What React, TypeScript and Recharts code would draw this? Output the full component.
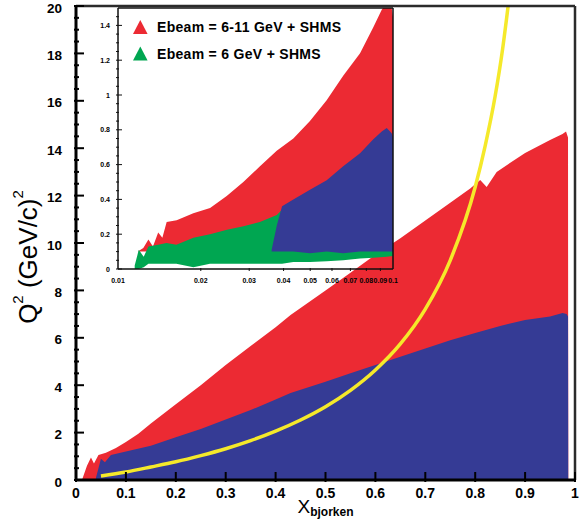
import React from 'react';
import { ComposedChart, Area, Line, XAxis, YAxis, ReferenceLine, Legend } from 'recharts';

const W = 582;
const H = 525;
const FONT = '"Liberation Sans", Arial, Helvetica, sans-serif';
const RED = '#ec2a33';
const BLUE = '#353b95';
const GREEN = '#00a651';
const YELLOW = '#f5e92a';
const FRAME = '#2b2b2b';

// ---------------- main chart data (x_bjorken vs Q^2) ----------------
const mainRedX = [0.012, 0.022, 0.03, 0.036, 0.045, 0.06, 0.08, 0.1, 0.125, 0.15, 0.2, 0.25, 0.3, 0.35, 0.4, 0.43, 0.5, 0.55, 0.6, 0.65, 0.7, 0.75, 0.79, 0.81, 0.823, 0.843, 0.9, 0.95, 0.975, 0.982, 0.986, 0.9865];
const mainRedQ2 = [0, 0.6, 0.95, 0.7, 1.05, 1.15, 1.35, 1.6, 1.95, 2.38, 3.2, 4.0, 4.85, 5.65, 6.45, 6.96, 8.0, 8.75, 9.5, 10.2, 10.95, 11.7, 12.3, 12.66, 12.36, 13.0, 13.8, 14.35, 14.6, 14.7, 14.45, 0];

const mainBlueX = [0.04, 0.05, 0.058, 0.07, 0.1, 0.15, 0.2, 0.25, 0.3, 0.35, 0.4, 0.43, 0.5, 0.55, 0.6, 0.65, 0.7, 0.75, 0.8, 0.85, 0.9, 0.95, 0.975, 0.983, 0.986, 0.9865];
const mainBlueQ2 = [0.1, 0.9, 0.75, 1.05, 1.2, 1.45, 1.8, 2.15, 2.55, 2.95, 3.4, 3.67, 4.15, 4.5, 4.85, 5.2, 5.55, 5.9, 6.2, 6.5, 6.75, 6.9, 7.05, 7.0, 6.9, 0];

const yellowX = [0.05, 0.1, 0.15, 0.2, 0.25, 0.3, 0.35, 0.4, 0.45, 0.5, 0.55, 0.6, 0.65, 0.7, 0.75, 0.8, 0.82, 0.84, 0.855, 0.866];
const yellowQ2 = [0.17, 0.34, 0.55, 0.77, 1.03, 1.32, 1.66, 2.06, 2.53, 3.09, 3.78, 4.64, 5.74, 7.21, 9.27, 12.36, 14.1, 16.2, 18.2, 20.0];

const mainXTicks = [0, 0.1, 0.2, 0.3, 0.4, 0.5, 0.6, 0.7, 0.8, 0.9, 1];
const mainXTickLabels = ['0', '0.1', '0.2', '0.3', '0.4', '0.5', '0.6', '0.7', '0.8', '0.9', '1'];
const mainYMajor = [0, 2, 4, 6, 8, 10, 12, 14, 16, 18, 20];
const mainYMinor = [0.5, 1, 1.5, 2.5, 3, 3.5, 4.5, 5, 5.5, 6.5, 7, 7.5, 8.5, 9, 9.5, 10.5, 11, 11.5, 12.5, 13, 13.5, 14.5, 15, 15.5, 16.5, 17, 17.5, 18.5, 19, 19.5];

// ---------------- inset data (log x from 0.01 to 0.1) ----------------
const insetRedX = [0.0118, 0.01236, 0.0129, 0.0134, 0.014, 0.0145, 0.01503, 0.01634, 0.01879, 0.02162, 0.02485, 0.02856, 0.03283, 0.03777, 0.04341, 0.0499, 0.05738, 0.0659, 0.0759, 0.0848, 0.091, 0.0949, 0.0989, 0.1];
const insetRedLow = [0.1, 0.1, 0.1, 0.1, 0.1, 0.1, 0.1, 0.1, 0.1, 0.1, 0.1, 0.1, 0.1, 0.1, 0.1, 0.1, 0.1, 0.1, 0.1, 0.1, 0.1, 0.1, 0.1, 0.1];
const insetRedHigh = [0.1, 0.12, 0.17, 0.13, 0.21, 0.18, 0.27, 0.28, 0.32, 0.35, 0.42, 0.5, 0.59, 0.68, 0.75, 0.85, 0.97, 1.11, 1.24, 1.39, 1.49, 1.53, 1.5, 1.45];

const insetGreenX = [0.0115, 0.0119, 0.0124, 0.0129, 0.014, 0.015, 0.0163, 0.0188, 0.0216, 0.0249, 0.0286, 0.0328, 0.0378, 0.0395, 0.0434, 0.0499, 0.0574, 0.0659, 0.0759, 0.0848, 0.0949, 0.1];
const insetGreenLow = [0.0, 0.0, 0.01, 0.03, 0.03, 0.03, 0.03, 0.01, 0.03, 0.03, 0.03, 0.03, 0.03, 0.03, 0.04, 0.04, 0.045, 0.05, 0.06, 0.065, 0.07, 0.075];
const insetGreenHigh = [0.02, 0.11, 0.07, 0.13, 0.14, 0.15, 0.14, 0.18, 0.2, 0.225, 0.245, 0.27, 0.31, 0.34, 0.12, 0.12, 0.12, 0.12, 0.12, 0.13, 0.13, 0.13];

const insetBlueX = [0.0362, 0.0378, 0.0395, 0.0434, 0.0499, 0.0574, 0.0659, 0.0759, 0.0848, 0.091, 0.0949, 0.0989, 0.1];
const insetBlueLow = [0.1, 0.1, 0.1, 0.1, 0.09, 0.1, 0.09, 0.1, 0.1, 0.1, 0.1, 0.1, 0.1];
const insetBlueHigh = [0.11, 0.25, 0.36, 0.4, 0.455, 0.51, 0.59, 0.665, 0.745, 0.79, 0.81, 0.78, 0.76];

const insetXTicks = [0.01, 0.02, 0.03, 0.04, 0.05, 0.06, 0.07, 0.08, 0.09, 0.1];
const insetXTickLabels = ['0.01', '0.02', '0.03', '0.04', '0.05', '0.06', '0.07', '0.08', '0.09', '0.1'];
const insetYMajor = [0, 0.2, 0.4, 0.6, 0.8, 1, 1.2, 1.4];
const insetYMajorLabels = ['0', '0.2', '0.4', '0.6', '0.8', '1', '1.2', '1.4'];
const insetYMinor = [0.05, 0.1, 0.15, 0.25, 0.3, 0.35, 0.45, 0.5, 0.55, 0.65, 0.7, 0.75, 0.85, 0.9, 0.95, 1.05, 1.1, 1.15, 1.25, 1.3, 1.35, 1.45];

const legendLabels = ['Ebeam = 6-11 GeV + SHMS', 'Ebeam = 6 GeV + SHMS'];
const legendColors = [RED, GREEN];

// ---------------- helpers ----------------
type Row = { x: number; [k: string]: any };
function mergeByX(series: { key: string; xs: number[]; vals: any[] }[]): Row[] {
  const rows = new Map<number, Row>();
  for (const s of series) {
    s.xs.forEach((x, i) => {
      const r = rows.get(x) ?? { x };
      r[s.key] = s.vals[i];
      rows.set(x, r);
    });
  }
  return Array.from(rows.values()).sort((a, b) => a.x - b.x);
}
const zip2 = (a: number[], b: number[]) => a.map((v, i) => [v, b[i]]);

const mainData = mergeByX([
  { key: 'red', xs: mainRedX, vals: mainRedQ2 },
  { key: 'blue', xs: mainBlueX, vals: mainBlueQ2 },
  { key: 'yellow', xs: yellowX, vals: yellowQ2 },
]);

const insetData = mergeByX([
  { key: 'red', xs: insetRedX, vals: zip2(insetRedLow, insetRedHigh) },
  { key: 'green', xs: insetGreenX, vals: zip2(insetGreenLow, insetGreenHigh) },
  { key: 'blue', xs: insetBlueX, vals: zip2(insetBlueLow, insetBlueHigh) },
]);

const mainYTicks = [...mainYMajor, ...mainYMinor].sort((a, b) => a - b);
const insetYTicks = [...insetYMajor, ...insetYMinor].sort((a, b) => a - b);

// ---------------- tick renderers ----------------
const MainYTick = (p: any) => {
  const v = p.payload.value;
  const mi = mainYMajor.indexOf(v);
  const major = mi >= 0;
  return (
    <g>
      <line x1={p.x} x2={p.x + (major ? 10 : 5)} y1={p.y} y2={p.y} stroke="#000" strokeWidth={2} />
      {major && (
        <text x={p.x - 12} y={p.y + 6.5} textAnchor="end" fontFamily={FONT} fontWeight="bold" fontSize={13.5} fill="#000">
          {String(mainYMajor[mi])}
        </text>
      )}
    </g>
  );
};

const MainXTick = (p: any) => {
  const i = mainXTicks.indexOf(p.payload.value);
  return (
    <g>
      <line x1={p.x} x2={p.x} y1={p.y} y2={p.y - 10} stroke="#000" strokeWidth={2} />
      <text x={p.x} y={p.y + 16} textAnchor="middle" fontFamily={FONT} fontWeight="bold" fontSize={14} fill="#000">
        {mainXTickLabels[i]}
      </text>
    </g>
  );
};

const InsetYTick = (p: any) => {
  const v = p.payload.value;
  const mi = insetYMajor.indexOf(v);
  const major = mi >= 0;
  return (
    <g>
      <line x1={p.x} x2={p.x + (major ? 6 : 3)} y1={p.y} y2={p.y} stroke="#111" strokeWidth={1} />
      {major && (
        <text x={p.x - 6} y={p.y + 2.5} textAnchor="end" fontFamily={FONT} fontWeight="bold" fontSize={7} fill="#000">
          {insetYMajorLabels[mi]}
        </text>
      )}
    </g>
  );
};

const InsetXTick = (p: any) => {
  const i = insetXTicks.indexOf(p.payload.value);
  return (
    <g>
      {i > 0 && i < insetXTicks.length - 1 && (
        <line x1={p.x} x2={p.x} y1={p.y} y2={p.y - 3} stroke="#111" strokeWidth={1} />
      )}
      <text x={p.x} y={p.y + 12} textAnchor="middle" fontFamily={FONT} fontWeight="bold" fontSize={7} fill="#000">
        {insetXTickLabels[i]}
      </text>
    </g>
  );
};

// ---------------- titles ----------------
const YTitle = (props: any) => {
  const vb = props.viewBox && props.viewBox.height ? props.viewBox : { x: 0, y: 6, width: 76, height: 474 };
  const x = vb.x + 37;
  const y = vb.y + vb.height / 2 + 14;
  return (
    <text x={x} y={y} transform={`rotate(-90 ${x} ${y})`} textAnchor="middle" fontFamily={FONT} fontSize={26} fill="#000">
      Q<tspan fontSize={15} dy={-14}>2</tspan>
      <tspan dy={14}> (GeV/c)</tspan>
      <tspan fontSize={15} dy={-14}>2</tspan>
    </text>
  );
};

const XTitle = (props: any) => {
  const vb = props.viewBox && props.viewBox.width ? props.viewBox : { x: 76, y: 480, width: 499, height: 45 };
  const x = vb.x + vb.width / 2;
  const y = vb.y + 33;
  return (
    <text x={x} y={y} textAnchor="middle" fontFamily={FONT} fill="#000">
      <tspan fontSize={19}>X</tspan>
      <tspan fontSize={12} fontWeight="bold" dy={3}>bjorken</tspan>
    </text>
  );
};

const InsetLegend = () => (
  <svg width={260} height={50} style={{ overflow: 'visible' }}>
    {legendLabels.map((label, i) => (
      <g key={label} transform={`translate(0, ${i * 26.6})`}>
        <polygon points="0,14 7.3,0 14.6,14" fill={legendColors[i]} />
        <text x={24} y={12} fontFamily={FONT} fontWeight="bold" fontSize={14} letterSpacing={0.3} fill="#000">
          {label}
        </text>
      </g>
    ))}
  </svg>
);

export default function App() {
  return (
    <div style={{ position: 'absolute', left: 0, top: 0, width: W, height: H, background: '#fff' }}>
      <div style={{ position: 'absolute', left: 0, top: 0 }}>
        <ComposedChart width={W} height={H} data={mainData} margin={{ top: 6, right: 7, bottom: 0, left: 0 }}>
          <Area dataKey="red" type="linear" fill={RED} fillOpacity={1} stroke="none" connectNulls dot={false} activeDot={false} isAnimationActive={false} />
          <Area dataKey="blue" type="linear" fill={BLUE} fillOpacity={1} stroke="none" connectNulls dot={false} activeDot={false} isAnimationActive={false} />
          <Line dataKey="yellow" type="monotone" stroke={YELLOW} strokeWidth={3.5} dot={false} activeDot={false} connectNulls isAnimationActive={false} />
          <ReferenceLine y={20} stroke={FRAME} strokeWidth={2.5} />
          <ReferenceLine x={1} stroke={FRAME} strokeWidth={2.5} />
          <XAxis
            dataKey="x"
            type="number"
            domain={[0, 1]}
            allowDataOverflow
            ticks={mainXTicks}
            interval={0}
            tickSize={0}
            tickLine={false}
            axisLine={{ stroke: '#000', strokeWidth: 3 }}
            tick={MainXTick}
            height={45}
            label={<XTitle />}
          />
          <YAxis
            type="number"
            domain={[0, 20]}
            allowDataOverflow
            ticks={mainYTicks}
            interval={0}
            tickSize={0}
            tickLine={false}
            axisLine={{ stroke: '#000', strokeWidth: 3 }}
            tick={MainYTick}
            width={76}
            label={<YTitle />}
          />
        </ComposedChart>
      </div>
      <div style={{ position: 'absolute', left: 0, top: 0 }}>
        <ComposedChart width={W} height={H} data={insetData} margin={{ top: 8, right: 189, bottom: 0, left: 0 }}>
          <Area dataKey="red" name={legendLabels[0]} type="linear" fill={RED} fillOpacity={1} stroke="none" connectNulls dot={false} activeDot={false} isAnimationActive={false} />
          <Area dataKey="green" name={legendLabels[1]} type="linear" fill={GREEN} fillOpacity={1} stroke="none" connectNulls dot={false} activeDot={false} isAnimationActive={false} />
          <Area dataKey="blue" legendType="none" type="linear" fill={BLUE} fillOpacity={1} stroke="none" connectNulls dot={false} activeDot={false} isAnimationActive={false} />
          <ReferenceLine y={1.5} stroke="#111" strokeWidth={1.5} />
          <ReferenceLine x={0.1} stroke="#111" strokeWidth={1.5} />
          <XAxis
            dataKey="x"
            type="number"
            scale="log"
            domain={[0.01, 0.1]}
            allowDataOverflow
            ticks={insetXTicks}
            interval={0}
            tickSize={0}
            tickLine={false}
            axisLine={{ stroke: '#111', strokeWidth: 1.5 }}
            tick={InsetXTick}
            height={256}
          />
          <YAxis
            type="number"
            domain={[0, 1.5]}
            allowDataOverflow
            ticks={insetYTicks}
            interval={0}
            tickSize={0}
            tickLine={false}
            axisLine={{ stroke: '#111', strokeWidth: 1.5 }}
            tick={InsetYTick}
            width={118}
          />
          <Legend
            layout="vertical"
            align="center"
            verticalAlign="middle"
            content={<InsetLegend />}
            wrapperStyle={{ left: 133, top: 20, width: 260, height: 50 }}
          />
        </ComposedChart>
      </div>
    </div>
  );
}
